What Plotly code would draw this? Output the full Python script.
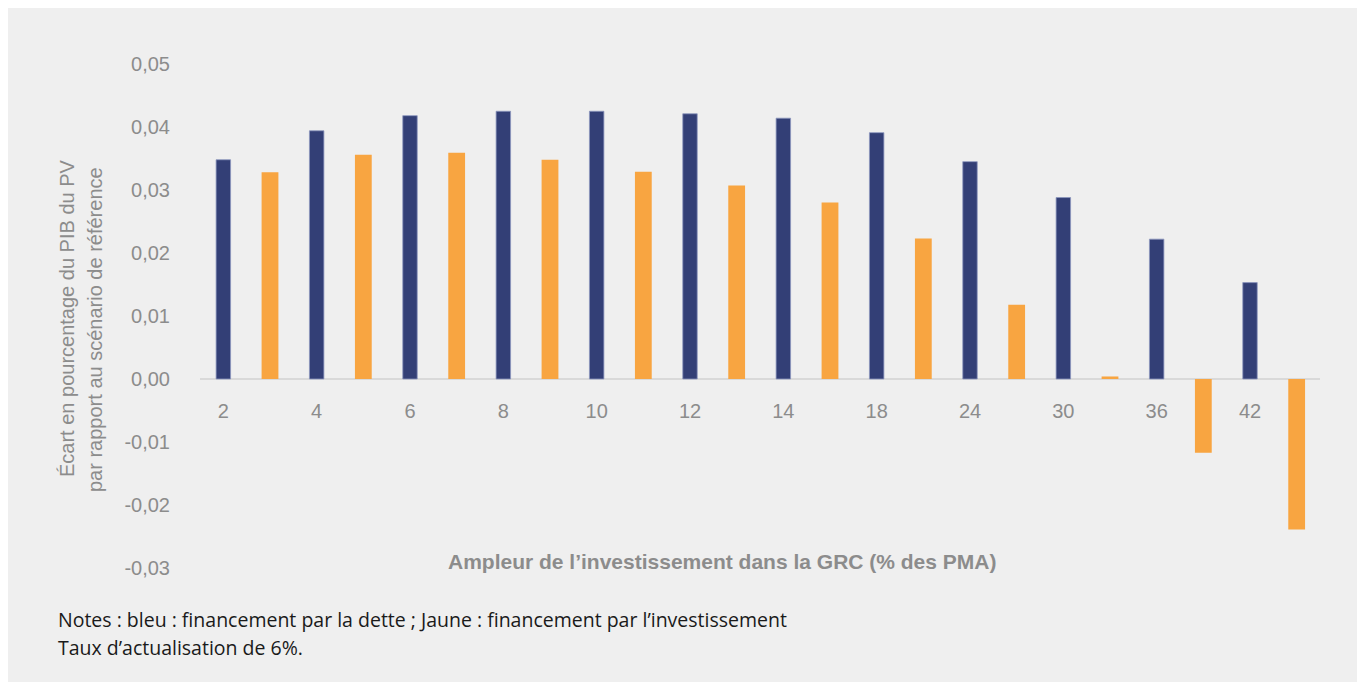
import numpy as np
import plotly.graph_objects as go

# Data
tick_labels = ["2", "4", "6", "8", "10", "12", "14", "18", "24", "30", "36", "42"]
blue_values = [0.0348, 0.0394, 0.0418, 0.0425, 0.0425, 0.0421, 0.0414, 0.0391,
               0.0345, 0.0288, 0.0222, 0.0153]
orange_values = [0.0328, 0.0356, 0.0359, 0.0348, 0.0329, 0.0307, 0.0280, 0.0223,
                 0.0118, 0.0004, -0.0117, -0.0239]
y_ticks = [-0.03, -0.02, -0.01, 0.0, 0.01, 0.02, 0.03, 0.04, 0.05]
y_tick_text = ["-0,03", "-0,02", "-0,01", "0,00", "0,01", "0,02", "0,03", "0,04", "0,05"]

blue_x = np.arange(len(blue_values)) * 2
orange_x = np.arange(len(orange_values)) * 2 + 1

W, H = 1365, 682
ML, MR, MT, MB = 192, 53, 56, 122
plot_w = W - ML - MR
plot_h = H - MT - MB

BG = "#efefef"
GREY = "#8c8c8c"
FONT = "Liberation Sans, Arial, sans-serif"
NOTE_FONT = "Open Sans, Liberation Sans, sans-serif"


def px_x(px):
    return (px - ML) / plot_w


def px_y(py):
    return (H - MB - py) / plot_h


fig = go.Figure()
fig.add_trace(go.Bar(
    x=blue_x, y=blue_values, width=0.31,
    marker=dict(color="#333f76", line=dict(color="rgba(140,150,190,0.8)", width=1)),
    name="Dette", showlegend=False,
))
fig.add_trace(go.Bar(
    x=orange_x, y=orange_values, width=0.36,
    marker=dict(color="#f8a541", line=dict(width=0)),
    name="Investissement", showlegend=False,
))

zero_pos = (0 - y_ticks[0]) / (y_ticks[-1] - y_ticks[0])

fig.update_layout(
    width=W, height=H,
    margin=dict(l=ML, r=MR, t=MT, b=MB, autoexpand=False),
    paper_bgcolor=BG, plot_bgcolor=BG,
    barmode="overlay",
    font=dict(family=FONT, color=GREY),
    xaxis=dict(
        range=[-0.5, len(blue_values) * 2 - 0.5],
        tickmode="array", tickvals=blue_x, ticktext=tick_labels,
        anchor="free", position=zero_pos,
        showgrid=False, zeroline=False, showline=False,
        ticks="", ticklabelstandoff=18,
        tickfont=dict(size=20, color=GREY, family=FONT),
    ),
    yaxis=dict(
        range=[y_ticks[0], y_ticks[-1]],
        tickmode="array", tickvals=y_ticks, ticktext=y_tick_text,
        showgrid=False, showline=False,
        zeroline=True, zerolinecolor="#d9d9d9", zerolinewidth=2,
        ticks="", ticklabelstandoff=29,
        tickfont=dict(size=20, color=GREY, family=FONT),
    ),
    annotations=[
        dict(text="<b>Ampleur de l’investissement dans la GRC (% des PMA)</b>",
             xref="paper", yref="paper", x=px_x(714), y=px_y(553),
             xanchor="center", yanchor="middle", showarrow=False,
             font=dict(size=21, color=GREY, family=FONT)),
        dict(text="Écart en pourcentage du PIB du PV",
             xref="paper", yref="paper", x=px_x(59), y=px_y(310),
             xanchor="center", yanchor="middle", showarrow=False, textangle=-90,
             font=dict(size=20, color=GREY, family=FONT)),
        dict(text="par rapport au scénario de référence",
             xref="paper", yref="paper", x=px_x(87), y=px_y(322),
             xanchor="center", yanchor="middle", showarrow=False, textangle=-90,
             font=dict(size=20, color=GREY, family=FONT)),
        dict(text="Notes : bleu : financement par la dette ; Jaune : financement par l’investissement",
             xref="paper", yref="paper", x=px_x(48), y=px_y(611),
             xanchor="left", yanchor="middle", showarrow=False,
             font=dict(size=19.5, color="#1a1a1a", family=NOTE_FONT)),
        dict(text="Taux d’actualisation de 6%.",
             xref="paper", yref="paper", x=px_x(48), y=px_y(640),
             xanchor="left", yanchor="middle", showarrow=False,
             font=dict(size=19.5, color="#1a1a1a", family=NOTE_FONT)),
    ],
)

fig.write_html("out.html")
